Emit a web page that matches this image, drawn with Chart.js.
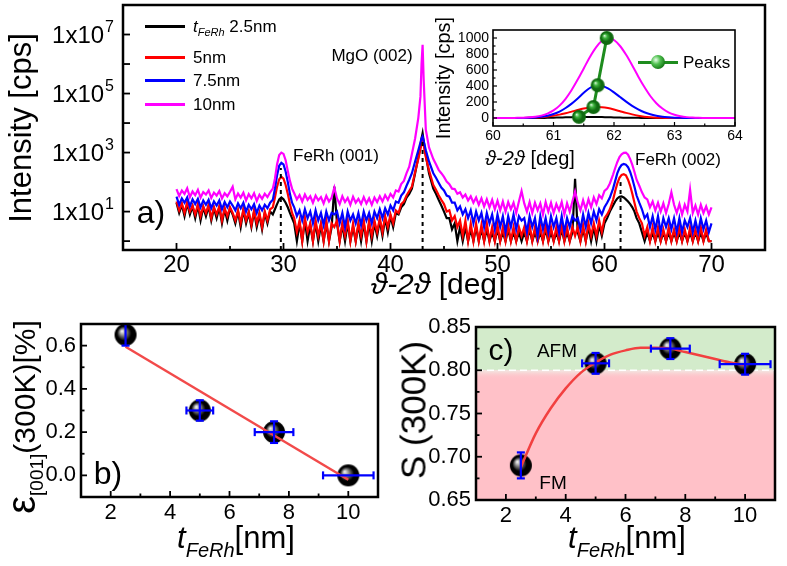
<!DOCTYPE html>
<html>
<head>
<meta charset="utf-8">
<title>FeRh thickness series</title>
<script src="https://cdn.jsdelivr.net/npm/chart.js"></script>
<style>
  body { margin: 0; background: #fff; font-family: "Liberation Sans", Arial, sans-serif; }
  #fig { position: relative; width: 787px; height: 566px; overflow: hidden; background: #fff; }
  #fig canvas { position: absolute; }
  .t { position: absolute; white-space: nowrap; line-height: 1; color: #000; transform: translate(-50%, -50%); }
  .l { position: absolute; white-space: nowrap; line-height: 1; color: #000; transform: translateY(-50%); }
  .rot { transform: translate(-50%, -50%) rotate(-90deg); }
  .sub { line-height: 0; }
  .sw { position: absolute; height: 3px; }
</style>
</head>
<body>
<div id="fig">
  <canvas id="xrd" width="787" height="300" style="left:0;top:0"></canvas>
  <canvas id="inset" width="380" height="175" style="left:380px;top:0"></canvas>
  <canvas id="strainChart" width="390" height="266" style="left:0;top:300px"></canvas>
  <canvas id="orderChart" width="397" height="266" style="left:390px;top:300px"></canvas>

  <!-- panel a texts -->
  <div class="t rot" style="left:20px;top:128px;font-size:31px">Intensity [cps]</div>
  <div class="t" style="left:438px;top:284px;font-size:30px"><i>&#977;-2&#977;</i> [deg]</div>
  <div class="t" style="left:151px;top:212px;font-size:32px">a)</div>
  <div class="t" style="left:372px;top:55px;font-size:17px">MgO (002)</div>
  <div class="t" style="left:336px;top:155px;font-size:17px">FeRh (001)</div>
  <div class="t" style="left:678px;top:159px;font-size:17px">FeRh (002)</div>
  <div id="legend"></div>

  <!-- inset texts -->
  <div class="t rot" style="left:443px;top:78px;font-size:20px">Intensity [cps]</div>
  <div class="t" style="left:530px;top:158px;font-size:20px"><i>&#977;-2&#977;</i> [deg]</div>
  <div class="sw" style="left:638px;top:61px;width:40px;background:#1e8c1e"></div>
  <div style="position:absolute;left:651px;top:55px;width:14px;height:14px;border-radius:50%;background:radial-gradient(circle at 35% 35%, #e8ffe8 0%, #4fbf4f 35%, #147814 75%, #0a500a 100%)"></div>
  <div class="l" style="left:683px;top:62px;font-size:17px">Peaks</div>

  <!-- panel b texts -->
  <div class="t rot" style="left:21px;top:417px;font-size:30px"><span style="font-size:40px">&#949;</span><span class="sub" style="font-size:19px;vertical-align:-8px">[001]</span>(300K)[%]</div>
  <div class="t" style="left:236px;top:537px;font-size:31px"><i>t</i><span class="sub" style="font-size:20px;vertical-align:-9px"><i>FeRh</i></span>[nm]</div>
  <div class="t" style="left:108px;top:473px;font-size:32px">b)</div>

  <!-- panel c texts -->
  <div class="t rot" style="left:413px;top:410px;font-size:35px">S (300K)</div>
  <div class="t" style="left:627px;top:537px;font-size:31px"><i>t</i><span class="sub" style="font-size:20px;vertical-align:-9px"><i>FeRh</i></span>[nm]</div>
  <div class="t" style="left:501px;top:350px;font-size:30px">c)</div>
  <div class="t" style="left:557px;top:350px;font-size:19px">AFM</div>
  <div class="t" style="left:553px;top:482px;font-size:19px">FM</div>
</div>

<script>
// ---- panel a: XRD scans (2theta in deg, intensity in cps) ----
const twoTheta = [
  20,20.25,20.5,20.75,21,21.25,21.5,21.75,22,22.25,22.5,22.75,23,23.25,23.5,23.75,24,24.25,24.5,24.75,25,
  25.25,25.5,25.75,26,26.25,26.5,26.75,27,27.25,27.5,27.75,28,28.25,28.5,28.75,
  29,29.2,29.4,29.6,29.8,30,30.2,30.4,30.6,30.8,
  31,31.25,31.5,31.75, 32,32.25,32.5,32.75, 33,33.25,33.5,33.75, 34,34.25,34.5,34.75,
  35,35.25,35.5,35.75, 36,36.25,36.5,36.75, 37,37.25,37.5,37.75, 38,38.25,38.5,38.75,
  39,39.25,39.5,39.75, 40,40.25,40.5,40.75, 41,41.25,41.5,41.75,
  42,42.3,42.6,42.8,42.9,43,43.1,43.3,43.6,
  44,44.25,44.5,44.75, 45,45.25,45.5,45.75, 46,46.25,46.5,46.75, 47,47.25,47.5,47.75,
  48,48.25,48.5,48.75, 49,49.25,49.5,49.75, 50,50.25,50.5,50.75, 51,51.25,51.5,51.75,
  52,52.25,52.5,52.75, 53,53.25,53.5,53.75, 54,54.25,54.5,54.75, 55,55.25,55.5,55.75,
  56,56.25,56.5,56.75, 57,57.25,57.5,57.75, 58,58.25,58.5,58.75, 59,59.25,59.5,59.75,
  60,60.25,
  60.5,60.8,61,61.2,61.4,61.6,61.8,62,62.2,62.4,62.6,62.8,63,
  63.25,63.5,63.75, 64,64.25,64.5,64.75, 65,65.25,65.5,65.75, 66,66.25,66.5,66.75,
  67,67.25,67.5,67.75, 68,68.25,68.5,68.75, 69,69.25,69.5,69.75, 70];

const int2p5 = [
  20,9,17,7,19,8,15,6,16,5,14,7,15,5,13,6,14,4,12,5,13,
  8,4,10,3,11,4,9,3,10,3,8,2.5,9,4,10,
  8,12,18,26,30,26,20,14,9,6,
  4,1,4,1, 5,1,3.5,1, 4,1,3.5,1, 4,1,3,70,
  4,1,3.5,1, 4,1,3,1, 3.5,1,4,1, 4,1,4,1.5,
  5,1.5,6,2, 7,3,9,8, 14,18,30,40,
  60,200,700,1800,3000,4500,2500,800,200,
  60,40,25,16, 10,6,6,2.5, 4,1,3,1, 3,1,2.5,1,
  3,1,2.5,1, 2.5,1,2,1, 2.5,1,2,1, 2.5,1,2,1,
  2,1,2,1, 2.5,1,2,1, 2,1,2.5,1, 2,1,2,1,
  2.5,1,2,1, 2,130,2,1, 2.5,1,3,1, 3,1,3.5,1.5,
  4,6,
  10,16,22,28,32,33,30,26,22,18,14,10,6,
  4,2,1, 2,1,2,1, 2,1,2,1, 2,1,2,1,
  2,1,2,1, 2,1,2,1, 2,1,2,1, 1];

const int5 = [
  22,11,19,9,21,10,16,8,18,7,15,9,17,6,14,8,15,5,13,7,14,
  9,5,11,4,12,5,10,3.5,11,4,9,3,10,5,12,
  14,30,70,125,150,130,80,40,18,9,
  6,2,5,1, 6,2,4,1, 5,1.5,4,1, 5,1,4,3,
  5,1,4,1.5, 5,1,4,1, 4,1.5,5,1, 5,1.5,5,2,
  6,2,7,3, 8,4,11,9, 18,22,35,50,
  70,220,600,1300,2000,2600,1800,700,250,
  80,55,36,25, 18,10,11,5, 7,3,5,1.5, 5,1,4,1,
  4,1,3.5,1, 4,1,3,1, 3.5,1,3,1, 3.5,1,3,1,
  3,1.5,3,1, 3.5,1,3,1, 3,1,3.5,1, 3,1,3,1,
  3.5,1,3,1, 3,1.5,3,1, 3.5,1,4,1.5, 4,1.5,5,2,
  6,8,
  12,25,50,90,140,175,185,170,120,75,40,20,10,
  6,4,1.5, 3,1,3,1, 3,1,2.5,1, 3,1,2.5,1,
  3,1,2.5,1, 3,1,2.5,1, 3,1,2.5,1, 1];

const int7p5 = [
  32,17,28,20,30,15,26,18,27,14,24,17,25,13,22,16,24,12,21,14,22,
  16,11,19,13,20,10,17,12,18,9,16,11,17,13,20,
  25,60,170,360,450,400,230,100,40,20,
  14,7,11,5, 12,6,10,4, 11,5,9,3.5, 10,5,9,8,
  10,4,9,3, 10,5,8,4, 9,3.5,10,5, 9,4,10,6,
  12,6,13,8, 16,11,22,20, 35,45,75,120,
  200,500,1200,2200,3000,3500,2500,1200,500,
  200,140,95,65, 52,35,32,20, 20,11,15,8, 12,6,11,4,
  10,5,9,3, 9,4,8,2.5, 8,3,7,2, 7,3,8,2.5,
  7,5,6,2, 7,3,6,1.5, 7,2.5,6,2, 7,3,6,2,
  7,2,6,3, 7,5,6,2.5, 8,3,9,4, 10,5,12,8,
  14,20,
  30,60,110,200,300,380,410,390,320,220,130,70,35,
  20,12,6, 8,3,7,2.5, 7,2,6,3, 6,2.5,6,2,
  6,2,5,3, 6,2,5,2, 6,2.5,5,2, 4];

const int10 = [
  58,34,52,40,62,31,48,36,55,30,46,38,52,29,44,35,50,28,42,33,47,
  70,26,41,30,44,24,39,28,42,23,37,27,40,31,45,
  60,130,400,820,1000,900,550,240,110,60,
  42,26,36,22, 38,25,33,20, 35,24,31,19, 34,22,30,65,
  28,18,33,21, 29,17,32,20, 27,18,31,19, 28,17,30,21,
  33,22,36,25, 40,30,52,48, 85,110,200,330,
  900,3000,15000,80000,1000000,4500000,300000,6000,1500,
  600,400,260,200, 150,105,85,60, 58,40,45,30, 38,24,33,20,
  30,17,28,15, 26,14,25,12, 23,11,22,10, 21,12,20,9,
  22,50,19,10, 21,9,20,11, 19,8,21,10, 20,9,18,11,
  21,8,19,10, 22,48,20,11, 24,12,26,14, 30,18,36,28,
  50,60,
  90,180,300,480,700,880,980,1000,850,600,380,220,120,
  75,45,30, 26,14,22,11, 20,10,19,9, 18,45,17,9,
  18,8,17,10, 55,9,16,8, 17,9,15,8, 14];

const seriesNames = ['2.5nm', '5nm', '7.5nm', '10nm'];
const seriesColors = ['#000000', '#ff0000', '#0000ff', '#ff00ff'];

// dotted reference lines at the peak positions
const markTheta = [29.75, 43.0, 61.5];
const markTop = [300, 3000, 100];

const xrdXTicks = [20, 30, 40, 50, 60, 70];
const xrdXMinor = [25, 35, 45, 55, 65];
const xrdYTicks = [1, 10, 100, 1e3, 1e4, 1e5, 1e6, 1e7];
const xrdYLabelExp = [1, 3, 5, 7];

// ---- inset: fitted FeRh (002) peaks ----
const insetTheta = [60,60.1,60.2,60.3,60.4,60.5,60.6,60.7,60.8,60.9,
  61,61.1,61.2,61.3,61.4,61.5,61.6,61.7,61.8,61.9,
  62,62.1,62.2,62.3,62.4,62.5,62.6,62.7,62.8,62.9,
  63,63.1,63.2,63.3,63.4,63.5,63.6,63.7,63.8,63.9,64];
const fit2p5 = [0,0,0,0,0,0,0,0,
  1,2,4,6,8,10,12,13,13,12,11,9,7,5,4,3,2,1,
  0,0,0,0,0,0,0,0,0,0,0,0,0,0,0];
const fit5 = [0,0,0,0,0,0,
  2,5,10,18,28,42,60,80,100,118,132,138,135,124,106,85,64,45,29,17,9,4,2,1,
  0,0,0,0,0,0,0,0,0,0,0];
const fit7p5 = [0,0,0,0,0,
  1,3,7,15,28,50,80,125,180,245,315,375,405,400,370,320,262,205,152,108,72,46,28,16,9,4,2,1,
  0,0,0,0,0,0,0,0];
const fit10 = [0,0,0,
  1,2,4,8,16,30,55,95,155,240,350,480,620,760,880,965,1000,975,900,790,660,520,390,275,185,118,70,40,22,11,5,2,1,
  0,0,0,0,0];
const peakTheta = [61.42, 61.66, 61.73, 61.88];
const peakHeight = [15, 137, 410, 1000];
const insetXTicks = [60, 61, 62, 63, 64];
const insetXMinor = [60.5, 61.5, 62.5, 63.5];
const insetYTicks = [0, 200, 400, 600, 800, 1000];
const insetYMinor = [100, 300, 500, 700, 900];

// ---- panels b and c ----
const thickness = [2.5, 5, 7.5, 10];
const strain = [0.65, 0.30, 0.20, 0.0];
const strainXErr = [0, 0.45, 0.65, 0.85];
const strainYErr = [0.05, 0.047, 0.05, 0];
const strainFitX = [2.5, 10];
const strainFitY = [0.595, -0.02];

const orderS = [0.69, 0.808, 0.825, 0.807];
const orderXErr = [0, 0.45, 0.65, 0.85];
const orderYErr = [0.015, 0.012, 0.012, 0.012];
const orderCurveX = [2.5, 3, 3.5, 4, 4.5, 5, 5.5, 6, 6.5, 7, 7.5, 8, 8.5, 9, 9.5, 10];
const orderCurveY = [0.688, 0.727, 0.756, 0.779, 0.797, 0.809, 0.818, 0.823, 0.826, 0.826, 0.825, 0.821, 0.817, 0.813, 0.809, 0.806];
const afmThreshold = 0.80;

const tXTicks = [2, 4, 6, 8, 10];
const tXMinor = [3, 5, 7, 9];
const strainYTicks = [0, 0.2, 0.4, 0.6];
const strainYMinor = [-0.1, 0.1, 0.3, 0.5];
const orderYTicks = [0.65, 0.70, 0.75, 0.80, 0.85];
const orderYMinor = [0.675, 0.725, 0.775, 0.825];

Chart.defaults.font.family = '"Liberation Sans", Arial, sans-serif';
Chart.defaults.color = '#000';
Chart.defaults.animation = false;
Chart.defaults.plugins.legend.display = false;
Chart.defaults.plugins.tooltip.enabled = false;

const pts = (xs, ys) => xs.map((x, i) => ({ x: x, y: ys[i] }));

function sphere(r, light, mid, dark) {
  const c = document.createElement('canvas');
  c.width = c.height = 2 * r + 2;
  const g = c.getContext('2d');
  const k = r + 1;
  const grad = g.createRadialGradient(k - r * 0.35, k - r * 0.35, 0, k, k, r);
  grad.addColorStop(0, light);
  grad.addColorStop(0.3, mid);
  grad.addColorStop(0.65, dark);
  grad.addColorStop(1, dark);
  g.fillStyle = grad;
  g.beginPath();
  g.arc(k, k, r, 0, Math.PI * 2);
  g.fill();
  return c;
}
const blackBall = sphere(11, '#ffffff', '#8a8a8a', '#000000');
const greenBall = sphere(7, '#e8ffe8', '#3db33d', '#106a10');

function axis(opts) {
  return {
    type: opts.type || 'linear',
    min: opts.min, max: opts.max,
    grid: { display: false, drawTicks: false },
    border: { display: false },
    afterBuildTicks: s => { s.ticks = opts.ticks.map(v => ({ value: v })); },
    afterFit: s => { if (s.isHorizontal()) s.height = opts.fit; else s.width = opts.fit; },
    ticks: {
      display: opts.show !== false,
      font: { size: opts.size },
      padding: opts.pad,
      autoSkip: false, maxRotation: 0,
      callback: opts.fmt || (v => v)
    }
  };
}

// box + inward tick marks
const frame = {
  id: 'frame',
  afterDraw(chart, args, o) {
    const { ctx, chartArea: a } = chart;
    const sx = chart.scales.x, sy = chart.scales.y;
    ctx.save();
    ctx.strokeStyle = '#000';
    ctx.lineWidth = o.tickWidth || 1.8;
    const mark = (scale, vals, len) => (vals || []).forEach(v => {
      const p = scale.getPixelForValue(v);
      ctx.beginPath();
      if (scale.isHorizontal()) { ctx.moveTo(p, a.bottom); ctx.lineTo(p, a.bottom - len); }
      else { ctx.moveTo(a.left, p); ctx.lineTo(a.left + len, p); }
      ctx.stroke();
    });
    mark(sx, o.xMajor, o.major); mark(sx, o.xMinor, o.minor);
    mark(sy, o.yMajor, o.major); mark(sy, o.yMinor, o.minor);
    ctx.lineWidth = o.border || 2.5;
    ctx.strokeRect(a.left, a.top, a.right - a.left, a.bottom - a.top);
    ctx.restore();
  }
};

// blue error bars with caps, drawn over the markers
const errorBars = {
  id: 'errorBars',
  afterDatasetsDraw(chart) {
    const { ctx } = chart;
    const sx = chart.scales.x, sy = chart.scales.y;
    const seg = (x1, y1, x2, y2) => { ctx.beginPath(); ctx.moveTo(x1, y1); ctx.lineTo(x2, y2); ctx.stroke(); };
    chart.data.datasets.forEach(ds => {
      if (!ds.xErr) return;
      ctx.save();
      ctx.strokeStyle = '#0000ff';
      ctx.lineWidth = 2.2;
      ds.data.forEach((p, j) => {
        const px = sx.getPixelForValue(p.x), py = sy.getPixelForValue(p.y);
        if (ds.xErr[j]) {
          const l = sx.getPixelForValue(p.x - ds.xErr[j]), r = sx.getPixelForValue(p.x + ds.xErr[j]);
          seg(l, py, r, py); seg(l, py - 4, l, py + 4); seg(r, py - 4, r, py + 4);
        }
        if (ds.yErr[j]) {
          const t = sy.getPixelForValue(p.y + ds.yErr[j]), b = sy.getPixelForValue(p.y - ds.yErr[j]);
          seg(px, t, px, b); seg(px - 4, t, px + 4, t); seg(px - 4, b, px + 4, b);
        }
      });
      ctx.restore();
    });
  }
};

// 1x10^n labels on the log axis
const logLabels = {
  id: 'logLabels',
  afterDraw(chart) {
    const { ctx } = chart;
    const sy = chart.scales.y;
    const right = 114;
    ctx.save();
    ctx.fillStyle = '#000';
    ctx.textBaseline = 'alphabetic';
    xrdYLabelExp.forEach(e => {
      const y = sy.getPixelForValue(Math.pow(10, e));
      ctx.font = '16px "Liberation Sans", Arial, sans-serif';
      const sw = ctx.measureText(String(e)).width;
      ctx.fillText(String(e), right - sw, y - 2.5);
      ctx.font = '24px "Liberation Sans", Arial, sans-serif';
      const bw = ctx.measureText('1x10').width;
      ctx.fillText('1x10', right - sw - bw - 1, y + 8.5);
    });
    ctx.restore();
  }
};

// AFM / FM background bands for panel c
const phaseBands = {
  id: 'phaseBands',
  beforeDatasetsDraw(chart) {
    const { ctx, chartArea: a } = chart;
    const yT = chart.scales.y.getPixelForValue(afmThreshold);
    ctx.save();
    ctx.fillStyle = '#d3ebcb';
    ctx.fillRect(a.left, a.top, a.right - a.left, yT - a.top);
    ctx.fillStyle = '#ffc1c8';
    ctx.fillRect(a.left, yT, a.right - a.left, a.bottom - yT);
    const g = ctx.createLinearGradient(0, yT, 0, yT + 9);
    g.addColorStop(0, '#f1eae4');
    g.addColorStop(1, 'rgba(255,193,200,0)');
    ctx.fillStyle = g;
    ctx.fillRect(a.left, yT, a.right - a.left, 9);
    ctx.strokeStyle = '#ffffff';
    ctx.lineWidth = 1.6;
    ctx.setLineDash([7, 4]);
    ctx.beginPath(); ctx.moveTo(a.left, yT); ctx.lineTo(a.right, yT); ctx.stroke();
    ctx.restore();
  }
};

// ---------- panel a ----------
const xrdSets = [int2p5, int5, int7p5, int10].map((ys, i) => ({
  data: pts(twoTheta, ys),
  borderColor: seriesColors[i],
  borderWidth: 2.2,
  pointRadius: 0,
  order: 4 - i
}));
const markSets = markTheta.map((x, i) => ({
  data: [{ x: x, y: 0.5 }, { x: x, y: markTop[i] }],
  borderColor: '#000', borderWidth: 2, borderDash: [4, 4], pointRadius: 0, order: 0
}));

new Chart(document.getElementById('xrd'), {
  type: 'line',
  data: { datasets: xrdSets.concat(markSets) },
  options: {
    responsive: false,
    layout: { padding: { left: 0, top: 5, right: 22, bottom: 0 } },
    scales: {
      x: axis({ min: 15, max: 75, ticks: xrdXTicks, size: 24, pad: 1, fit: 50 }),
      y: axis({ type: 'logarithmic', min: 0.5, max: 1e8, ticks: xrdYTicks, show: false, fit: 123 })
    },
    plugins: { frame: { xMajor: xrdXTicks, xMinor: xrdXMinor, yMajor: xrdYTicks, major: 7, minor: 4 } }
  },
  plugins: [frame, logLabels]
});

// ---------- inset ----------
const insetSets = [fit2p5, fit5, fit7p5, fit10].map((ys, i) => ({
  data: pts(insetTheta, ys),
  borderColor: seriesColors[i],
  borderWidth: 2,
  pointRadius: 0,
  tension: 0.3,
  order: 4 - i
}));
insetSets.push({
  data: pts(peakTheta, peakHeight),
  borderColor: '#1e8c1e', borderWidth: 3,
  pointStyle: greenBall, pointRadius: 7, order: 0
});
new Chart(document.getElementById('inset'), {
  type: 'line',
  data: { datasets: insetSets },
  options: {
    responsive: false,
    layout: { padding: { left: 0, top: 30, right: 25, bottom: 0 } },
    scales: {
      x: axis({ min: 60, max: 64, ticks: insetXTicks, size: 14, pad: 2, fit: 49 }),
      y: axis({ min: -100, max: 1100, ticks: insetYTicks, size: 14, pad: 4, fit: 113 })
    },
    plugins: { frame: { xMajor: insetXTicks, xMinor: insetXMinor, yMajor: insetYTicks, yMinor: insetYMinor, major: 4, minor: 2.5, border: 1.6, tickWidth: 1.2 } }
  },
  plugins: [frame]
});

// ---------- panel b ----------
new Chart(document.getElementById('strainChart'), {
  type: 'line',
  data: {
    datasets: [
      { data: pts(strainFitX, strainFitY), borderColor: '#f24a4a', borderWidth: 2.5, pointRadius: 0 },
      { data: pts(thickness, strain), showLine: false, pointStyle: blackBall, pointRadius: 11,
        xErr: strainXErr, yErr: strainYErr }
    ]
  },
  options: {
    responsive: false,
    layout: { padding: { left: 0, top: 24, right: 1, bottom: 0 } },
    scales: {
      x: axis({ min: 1, max: 11, ticks: tXTicks, size: 22, pad: 3, fit: 69 }),
      y: axis({ min: -0.1, max: 0.7, ticks: strainYTicks, size: 22, pad: 5, fit: 81, fmt: v => v.toFixed(1) })
    },
    plugins: { frame: { xMajor: tXTicks, xMinor: tXMinor, yMajor: strainYTicks, yMinor: strainYMinor, major: 6, minor: 3.5 } }
  },
  plugins: [frame, errorBars]
});

// ---------- panel c ----------
new Chart(document.getElementById('orderChart'), {
  type: 'line',
  data: {
    datasets: [
      { data: pts(orderCurveX, orderCurveY), borderColor: '#f24040', borderWidth: 2.5, pointRadius: 0,
        cubicInterpolationMode: 'monotone' },
      { data: pts(thickness, orderS), showLine: false, pointStyle: blackBall, pointRadius: 11,
        xErr: orderXErr, yErr: orderYErr }
    ]
  },
  options: {
    responsive: false,
    layout: { padding: { left: 0, top: 27, right: 7, bottom: 0 } },
    scales: {
      x: axis({ min: 1, max: 11, ticks: tXTicks, size: 22, pad: 3, fit: 66 }),
      y: axis({ min: 0.65, max: 0.85, ticks: orderYTicks, size: 22, pad: 5, fit: 86, fmt: v => v.toFixed(2) })
    },
    plugins: { frame: { xMajor: tXTicks, xMinor: tXMinor, yMajor: orderYTicks, yMinor: orderYMinor, major: 6, minor: 3.5 } }
  },
  plugins: [phaseBands, frame, errorBars]
});

// ---------- legend for panel a ----------
const legendRows = [26, 57, 80, 104];
const legend = document.getElementById('legend');
seriesNames.forEach((name, i) => {
  const sw = document.createElement('div');
  sw.className = 'sw';
  sw.style.cssText = 'left:145px;top:' + (legendRows[i] - 1.5) + 'px;width:40px;background:' + seriesColors[i];
  legend.appendChild(sw);
  const tx = document.createElement('div');
  tx.className = 'l';
  tx.style.cssText = 'left:193px;top:' + legendRows[i] + 'px;font-size:17px';
  tx.innerHTML = i === 0
    ? '<i>t</i><span class="sub" style="font-size:11px;vertical-align:-4px"><i>FeRh</i></span> ' + name
    : name;
  legend.appendChild(tx);
});
</script>
</body>
</html>
